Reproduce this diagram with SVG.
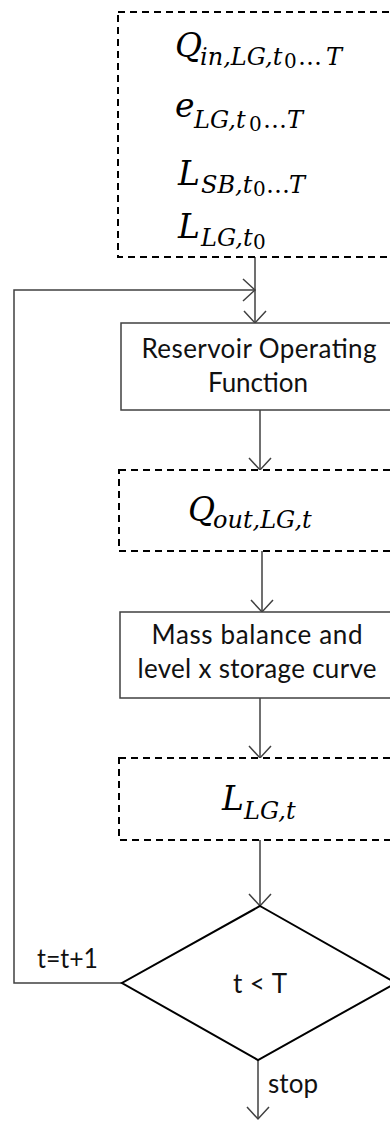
<svg xmlns="http://www.w3.org/2000/svg" width="390" height="1121" viewBox="0 0 390 1121">
  <style>
    .dash { fill: #fff; stroke: #000; stroke-width: 2; stroke-dasharray: 7 5; }
    .box { fill: #fff; stroke: #404040; stroke-width: 1.5; }
    .dia { fill: #fff; stroke: #000; stroke-width: 2; }
    .wire { fill: none; stroke: #404040; stroke-width: 1.5; }
    .lbl { font-family: Lato, "Liberation Sans", sans-serif; font-size: 26px; fill: #111; }
    .mid { text-anchor: middle; }
    .math { font-family: "DejaVu Serif", "Liberation Serif", serif; font-style: italic; fill: #000; }
    .m { font-size: 33px; }
    .s { font-size: 24px; }
    .ss { font-size: 20px; font-style: normal; }
    .up { font-style: normal; }
  </style>
  <defs>
    <marker id="vee" markerUnits="userSpaceOnUse" markerWidth="30" markerHeight="30" refX="0" refY="0" viewBox="-15 -15 30 30" orient="auto" overflow="visible">
      <path d="M-12,-11 L0,0 L-12,11" fill="none" stroke="#404040" stroke-width="1.5"/>
    </marker>
  </defs>

  <!-- connectors -->
  <g id="connectors">
    <line class="wire" x1="255" y1="257" x2="255" y2="323" marker-end="url(#vee)"/>
    <polyline class="wire" points="122,983 14,983 14,290 255,290" marker-end="url(#vee)"/>
    <line class="wire" x1="260" y1="410" x2="260" y2="470" marker-end="url(#vee)"/>
    <line class="wire" x1="262" y1="551" x2="262" y2="612" marker-end="url(#vee)"/>
    <line class="wire" x1="260" y1="698" x2="260" y2="758" marker-end="url(#vee)"/>
    <line class="wire" x1="260" y1="840" x2="260" y2="906" marker-end="url(#vee)"/>
    <line class="wire" x1="258" y1="1060" x2="258" y2="1119" marker-end="url(#vee)"/>
    <text class="lbl" x="37" y="968" textLength="61" lengthAdjust="spacingAndGlyphs">t=t+1</text>
    <text class="lbl" x="268" y="1093" textLength="50">stop</text>
  </g>

  <!-- initial inputs -->
  <g id="inputs">
    <rect class="dash" x="118" y="12" width="276" height="245"/>
    <text class="math">
      <tspan class="m" x="175" y="57">Q</tspan><tspan class="s" x="200" y="65">in,LG,t</tspan><tspan class="ss" x="284" y="68">0</tspan><tspan class="s up" x="298" y="65">…</tspan><tspan class="s" x="326" y="65">T</tspan>
    </text>
    <text class="math">
      <tspan class="m" x="175" y="117">e</tspan><tspan class="s" x="194" y="128">LG,t</tspan><tspan class="ss" x="249" y="131">0</tspan><tspan class="s up" x="263" y="128">…</tspan><tspan class="s" x="287" y="128">T</tspan>
    </text>
    <text class="math">
      <tspan class="m" x="178" y="185">L</tspan><tspan class="s" x="201" y="193">SB,t</tspan><tspan class="ss" x="253" y="196">0</tspan><tspan class="s up" x="266" y="193">…</tspan><tspan class="s" x="289" y="193">T</tspan>
    </text>
    <text class="math">
      <tspan class="m" x="178" y="238">L</tspan><tspan class="s" x="201" y="246">LG,t</tspan><tspan class="ss" x="253" y="249">0</tspan>
    </text>
  </g>

  <!-- operating rule -->
  <g id="operating">
    <rect class="box" x="121" y="323" width="273" height="87"/>
    <text class="lbl mid" x="259" y="358" textLength="235">Reservoir Operating</text>
    <text class="lbl mid" x="258" y="392" textLength="100">Function</text>
  </g>

  <!-- outflow -->
  <g id="outflow">
    <rect class="dash" x="119" y="470" width="275" height="81"/>
    <text class="math">
      <tspan class="m" x="188" y="521">Q</tspan><tspan class="s" x="213" y="528">out,LG,t</tspan>
    </text>
  </g>

  <!-- mass balance -->
  <g id="balance">
    <rect class="box" x="120" y="612" width="274" height="86"/>
    <text class="lbl mid" x="257" y="644" textLength="211">Mass balance and</text>
    <text class="lbl mid" x="257" y="678" textLength="239">level x storage curve</text>
  </g>

  <!-- level -->
  <g id="level">
    <rect class="dash" x="119" y="758" width="275" height="82"/>
    <text class="math">
      <tspan class="m" x="222" y="810">L</tspan><tspan class="s" x="244" y="819">LG,t</tspan>
    </text>
  </g>

  <!-- time check -->
  <g id="check">
    <polygon class="dia" points="260,906 396,983 258,1060 122,983"/>
    <text class="lbl mid" x="260" y="993" textLength="54">t &lt; T</text>
  </g>
</svg>
